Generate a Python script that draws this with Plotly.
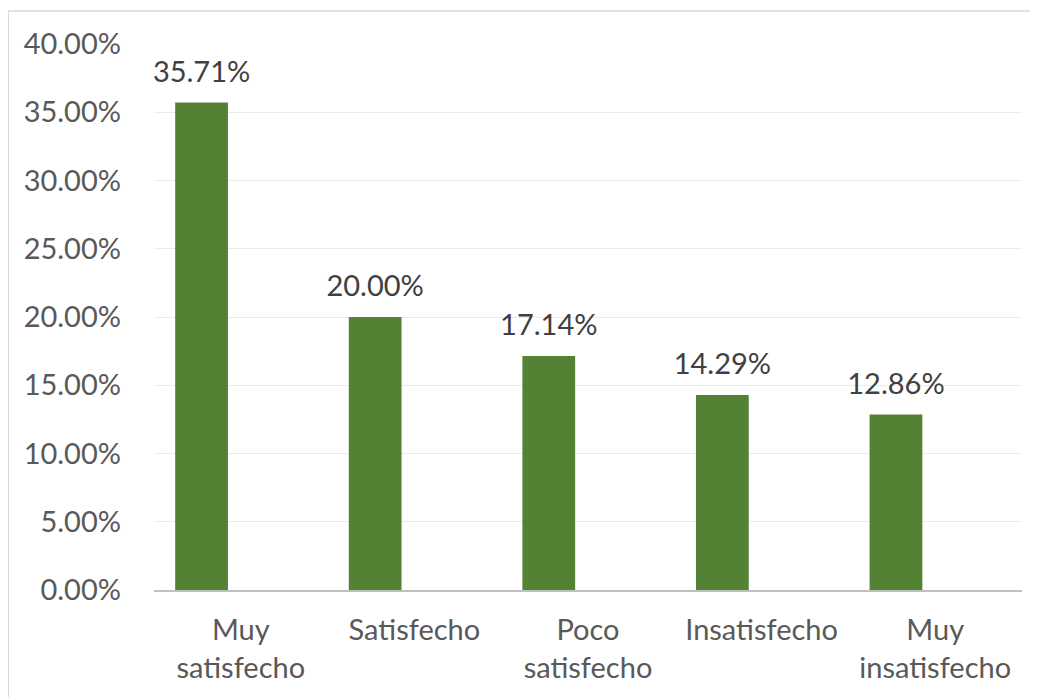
import plotly.graph_objects as go

categories = ["Muy<br>satisfecho", "Satisfecho", "Poco<br>satisfecho", "Insatisfecho", "Muy<br>insatisfecho"]
values = [0.3571, 0.2000, 0.1714, 0.1429, 0.1286]
tick_vals = [0, 0.05, 0.10, 0.15, 0.20, 0.25, 0.30, 0.35, 0.40]

FONT = "Lato, 'Open Sans', sans-serif"
FS = 29

# bars sit left of category centre (as in a clustered chart with an empty second series)
BAR_OFFSET = -0.378
BAR_WIDTH = 0.304
x_index = list(range(len(categories)))
label_x = [i + BAR_OFFSET + BAR_WIDTH / 2 for i in x_index]

fig = go.Figure()
fig.add_trace(go.Bar(
    x=x_index, y=values,
    offset=BAR_OFFSET, width=BAR_WIDTH,
    marker=dict(color="#548235", line=dict(width=0)),
    hoverinfo="skip",
))
fig.add_trace(go.Scatter(
    x=label_x, y=values, mode="markers+text",
    marker=dict(size=20, opacity=0),
    text=[f"{v:.2%}" for v in values], textposition="top center",
    textfont=dict(family=FONT, size=FS, color="#404040"),
    cliponaxis=False,
))

fig.update_layout(
    width=1038, height=697,
    margin=dict(l=146, r=24, t=36, b=115),
    paper_bgcolor="white", plot_bgcolor="white",
    showlegend=False,
    font=dict(family=FONT, size=FS, color="#595959"),
    shapes=[dict(type="rect", xref="paper", yref="paper",
                 x0=-0.168, x1=1.015, y0=-0.25, y1=1.0604,
                 line=dict(color="#d9d9d9", width=1.5), layer="below")],
)
fig.update_yaxes(
    range=[0, 0.40], tickvals=tick_vals, tickformat=".2%",
    showgrid=True, gridcolor="#ebebeb", gridwidth=1,
    zeroline=False, showline=False, ticks="",
    ticklabelstandoff=32,
    tickfont=dict(family=FONT, size=FS, color="#595959"),
)
fig.update_xaxes(
    range=[-0.5, len(categories) - 0.5],
    tickvals=x_index, ticktext=categories,
    showgrid=False, zeroline=False,
    showline=True, linecolor="#bfbfbf", linewidth=2,
    ticks="", ticklabelstandoff=13,
    tickfont=dict(family=FONT, size=FS, color="#595959"),
)

fig.write_html("out.html")
